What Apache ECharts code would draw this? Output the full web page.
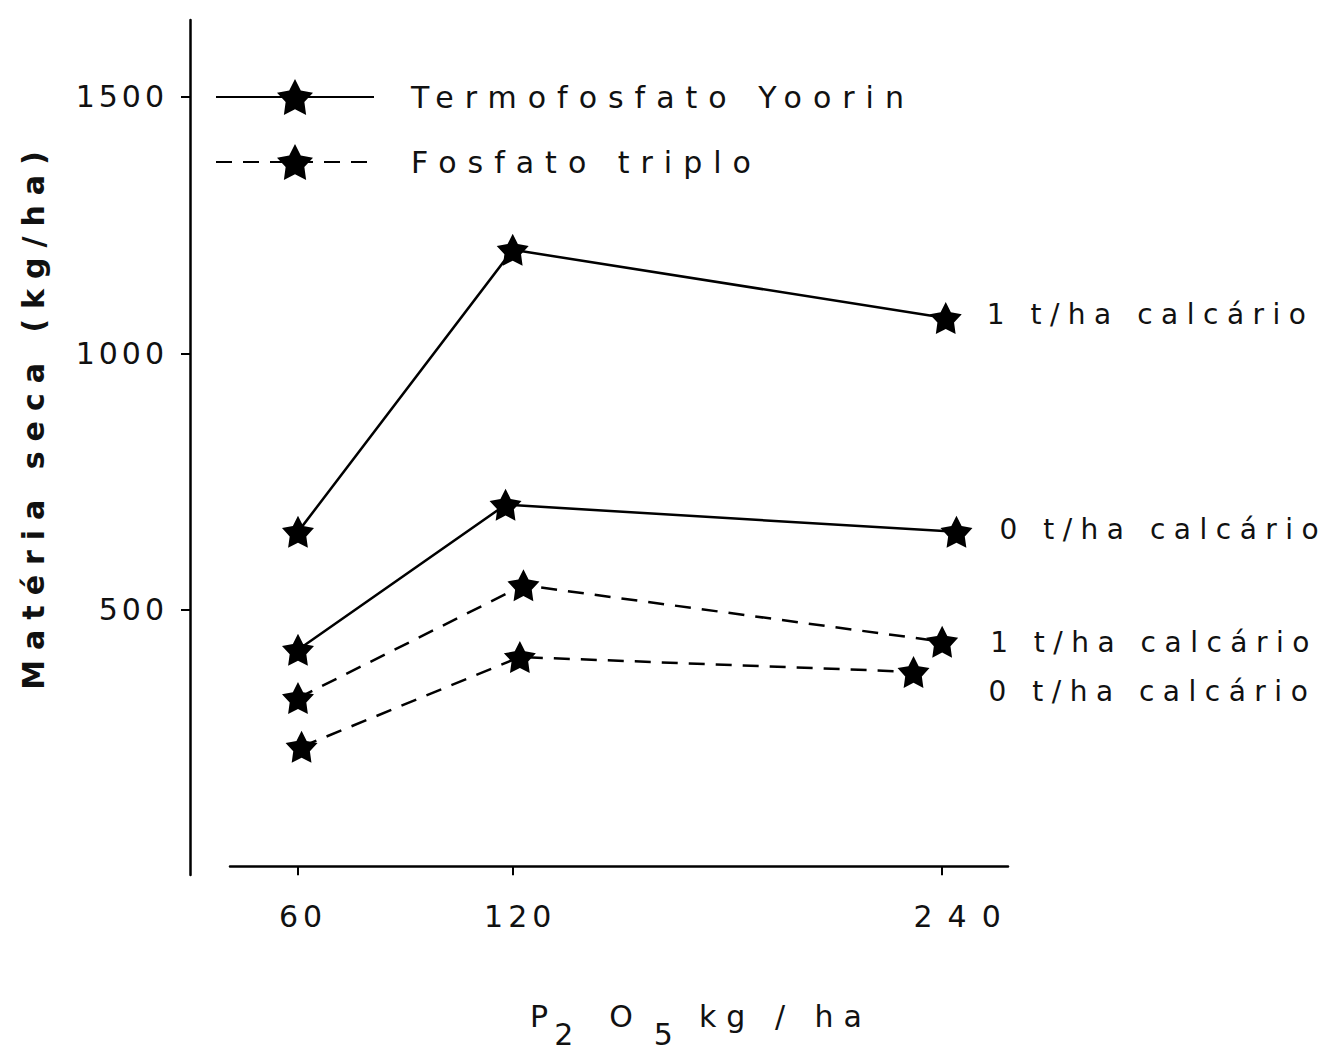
<!DOCTYPE html>
<html><head><meta charset="utf-8">
<script src="https://cdn.jsdelivr.net/npm/echarts@6/dist/echarts.min.js"></script>
<style>html,body{margin:0;padding:0;background:#fff}#c{width:1326px;height:1052px}</style>
</head><body><div id="c"></div>
<script>
// ---- data ----
const xTicks = [60, 120, 240];          // P2O5 kg/ha
const yTicks = [500, 1000, 1500];       // Matéria seca (kg/ha)
const legendNames = ['Termofosfato Yoorin', 'Fosfato triplo'];
const endLabelTexts = ['1 t/ha calcário', '0 t/ha calcário', '1 t/ha calcário', '0 t/ha calcário'];
const termo1tX = [60, 120, 241];  const termo1tY = [652, 1202, 1069];
const termo0tX = [60, 118, 244];  const termo0tY = [422, 705, 652];
const triplo1tX = [60, 123, 240]; const triplo1tY = [328, 548, 438];
const triplo0tX = [61, 122, 232]; const triplo0tY = [233, 408, 379];

const FONT = 'DejaVu Sans';
const STAR = 'path://M50 0 L65.28 28.97 L97.55 34.55 L74.73 58.03 L79.39 90.45 L50 76 L20.61 90.45 L25.27 58.03 L2.45 34.55 L34.72 28.97 Z';

function mkSeries(name, xs, ys, dashed, label, offset) {
  return {
    type: 'line', name: name,
    data: xs.map((x, i) => [x, ys[i]]),
    symbol: STAR, symbolSize: 32, showSymbol: true,
    itemStyle: { color: '#000' },
    lineStyle: { color: '#000', width: 2.5, type: dashed ? [16, 11] : 'solid' },
    endLabel: { show: true, formatter: label, color: '#111', fontSize: 28, fontFamily: FONT, distance: 0, offset: offset },
    emphasis: { disabled: true },
    animation: false
  };
}

const tx = { fontSize: 30, color: '#111', fontFamily: FONT, align: 'left' };
const chart = echarts.init(document.getElementById('c'), null, { renderer: 'svg' });
chart.setOption({
  backgroundColor: '#fff',
  animation: false,
  grid: { left: 230, right: 318, top: 20, bottom: 177, outerBoundsMode: 'none', containLabel: false },
  legend: {
    data: legendNames, orient: 'vertical', left: 215, top: 79, padding: 0,
    itemWidth: 158, itemHeight: 45, itemGap: 29, selectedMode: false,
    textStyle: { fontSize: 30, color: '#111', fontFamily: FONT, padding: [0, 0, 0, 32] }
  },
  xAxis: {
    type: 'value', min: 41, max: 258.4,
    name: '{p|P}{s2|2}{o|O}{s5|5}{k|kg / ha}',
    nameLocation: 'middle', nameGap: 108,
    nameTextStyle: {
      fontSize: 30, color: '#111', fontFamily: FONT, padding: [0, 0, 0, 94],
      rich: {
        p: Object.assign({}, tx),
        s2: Object.assign({ padding: [36, 0, 0, 6] }, tx),
        o: Object.assign({ padding: [0, 0, 0, 36] }, tx),
        s5: Object.assign({ padding: [36, 0, 0, 21] }, tx),
        k: Object.assign({ padding: [0, 0, 0, 26] }, tx)
      }
    },
    axisLine: { onZero: true, lineStyle: { color: '#000', width: 2.5 } },
    axisTick: { show: true, customValues: xTicks, length: 9, lineStyle: { color: '#000', width: 2 } },
    axisLabel: {
      customValues: xTicks, margin: 26, fontSize: 30, color: '#111', fontFamily: FONT,
      formatter: v => '{w|' + v + '}', rich: { w: Object.assign({}, tx) }
    },
    splitLine: { show: false }
  },
  yAxis: {
    type: 'value', min: -17, max: 1650, offset: 40,
    name: 'Matéria seca (kg/ha)', nameLocation: 'middle', nameGap: 142,
    nameTextStyle: { fontSize: 30, fontWeight: 'bold', color: '#111', fontFamily: FONT, padding: [0, 0, 0, 64] },
    axisLine: { show: true, onZero: false, lineStyle: { color: '#000', width: 2.5 } },
    axisTick: { show: true, customValues: yTicks, length: 9, lineStyle: { color: '#000', width: 2 } },
    axisLabel: { customValues: yTicks, margin: 22, fontSize: 30, color: '#111', fontFamily: FONT, formatter: v => String(v) },
    splitLine: { show: false }
  },
  series: [
    mkSeries(legendNames[0], termo1tX, termo1tY, false, endLabelTexts[0], [41, -3]),
    mkSeries(legendNames[0], termo0tX, termo0tY, false, endLabelTexts[1], [43, -2]),
    mkSeries(legendNames[1], triplo1tX, triplo1tY, true, endLabelTexts[2], [48, 1]),
    mkSeries(legendNames[1], triplo0tX, triplo0tY, true, endLabelTexts[3], [75, 20])
  ]
});

// letter spacing of the typeset original
const spacing = {
  'Termofosfato Yoorin': '11px', 'Fosfato triplo': '11px',
  '1 t/ha calcário': '8.5px', '0 t/ha calcário': '8.5px',
  'Matéria seca (kg/ha)': '10px',
  '500': '4px', '1000': '4px', '1500': '4px',
  '60': '5px', '120': '5px', '240': '15px', 'kg / ha': '10px'
};
function applySpacing() {
  document.querySelectorAll('#c svg text').forEach(t => {
    const s = spacing[t.textContent.trim()];
    if (s) t.style.letterSpacing = s;
  });
}
applySpacing();
chart.on('finished', applySpacing);
setTimeout(applySpacing, 50);
</script></body></html>
